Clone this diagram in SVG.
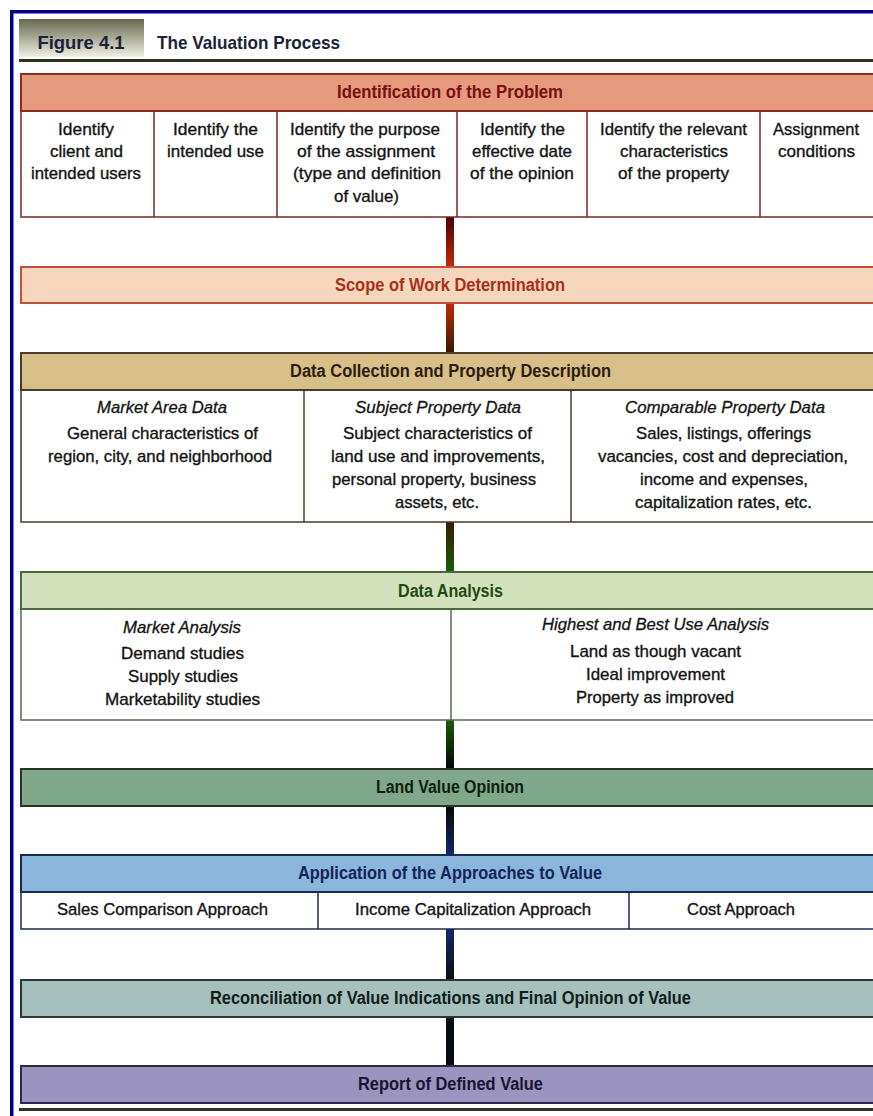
<svg xmlns="http://www.w3.org/2000/svg" width="873" height="1116" viewBox="0 0 873 1116">
<style>
text{font-family:"Liberation Sans Narrow","Liberation Sans",Arial,sans-serif;text-anchor:middle}
.h{font-size:18px;font-weight:bold}
.t{font-size:19px;font-weight:bold}
.b{font-size:17px;fill:#141414;stroke:#141414;stroke-width:0.35}
.i{font-size:17px;font-style:italic;fill:#141414;stroke:#141414;stroke-width:0.3}
.cell{fill:#fff;stroke-width:1.5}
.hd{stroke-width:2}
</style>
<defs>
<linearGradient id="tab" x1="0" y1="0" x2="0" y2="1">
<stop offset="0" stop-color="#66694c"/><stop offset="1" stop-color="#efefe4"/>
</linearGradient>
<linearGradient id="c1" x1="0" y1="0" x2="0" y2="1"><stop offset="0" stop-color="#4e0000"/><stop offset="1" stop-color="#c42a08"/></linearGradient>
<linearGradient id="c2" x1="0" y1="0" x2="0" y2="1"><stop offset="0" stop-color="#c42a08"/><stop offset="1" stop-color="#321a06"/></linearGradient>
<linearGradient id="c3" x1="0" y1="0" x2="0" y2="1"><stop offset="0" stop-color="#3a1a06"/><stop offset="1" stop-color="#1b5a08"/></linearGradient>
<linearGradient id="c4" x1="0" y1="0" x2="0" y2="1"><stop offset="0" stop-color="#1b5a08"/><stop offset="1" stop-color="#050a05"/></linearGradient>
<linearGradient id="c5" x1="0" y1="0" x2="0" y2="1"><stop offset="0" stop-color="#050a05"/><stop offset="1" stop-color="#14286a"/></linearGradient>
<linearGradient id="c6" x1="0" y1="0" x2="0" y2="1"><stop offset="0" stop-color="#14286a"/><stop offset="1" stop-color="#061010"/></linearGradient>
<linearGradient id="c7" x1="0" y1="0" x2="0" y2="1"><stop offset="0" stop-color="#061010"/><stop offset="1" stop-color="#0a0a14"/></linearGradient>
</defs>
<rect width="873" height="1116" fill="#fff"/>
<!-- outer blue frame -->
<rect x="10" y="10" width="863" height="3.5" fill="#00008a"/>
<rect x="10" y="10" width="3.5" height="1106" fill="#00008a"/>
<!-- title -->
<g id="title">
<rect x="19" y="19" width="125" height="38" fill="url(#tab)"/>
<text class="t" x="81" y="49" fill="#1c2238" textLength="87" lengthAdjust="spacingAndGlyphs">Figure 4.1</text>
<text class="t" x="248.5" y="49" fill="#1c2238" textLength="183" lengthAdjust="spacingAndGlyphs">The Valuation Process</text>
<rect x="19" y="59" width="854" height="3" fill="#2a3320"/>
</g>
<!-- connectors -->
<g id="connectors">
<rect x="446" y="217" width="8" height="50" fill="url(#c1)"/>
<rect x="446" y="303" width="8" height="50" fill="url(#c2)"/>
<rect x="446" y="522" width="8" height="50" fill="url(#c3)"/>
<rect x="446" y="720" width="8" height="48" fill="url(#c4)"/>
<rect x="446" y="806" width="8" height="49" fill="url(#c5)"/>
<rect x="446" y="929" width="8" height="51" fill="url(#c6)"/>
<rect x="446" y="1017" width="8" height="49" fill="url(#c7)"/>
</g>
<!-- Identification of the Problem -->
<g id="identification">
<rect class="cell" x="21" y="111" width="870" height="106" stroke="#7a2626"/>
<line x1="154" y1="111" x2="154" y2="217" stroke="#7a2626" stroke-width="1.5"/>
<line x1="277" y1="111" x2="277" y2="217" stroke="#7a2626" stroke-width="1.5"/>
<line x1="457" y1="111" x2="457" y2="217" stroke="#7a2626" stroke-width="1.5"/>
<line x1="587" y1="111" x2="587" y2="217" stroke="#7a2626" stroke-width="1.5"/>
<line x1="760" y1="111" x2="760" y2="217" stroke="#7a2626" stroke-width="1.5"/>
<rect class="hd" x="21" y="74" width="870" height="37" fill="#e59a7e" stroke="#8a2b26"/>
<text class="h" x="450" y="98" fill="#7a1010" textLength="226" lengthAdjust="spacingAndGlyphs">Identification of the Problem</text>
<text class="b" x="86" y="135" textLength="56" lengthAdjust="spacingAndGlyphs">Identify</text>
<text class="b" x="86.5" y="157" textLength="73" lengthAdjust="spacingAndGlyphs">client and</text>
<text class="b" x="86" y="179" textLength="110" lengthAdjust="spacingAndGlyphs">intended users</text>
<text class="b" x="215.5" y="135" textLength="85" lengthAdjust="spacingAndGlyphs">Identify the</text>
<text class="b" x="215.5" y="157" textLength="97" lengthAdjust="spacingAndGlyphs">intended use</text>
<text class="b" x="365" y="135" textLength="150" lengthAdjust="spacingAndGlyphs">Identify the purpose</text>
<text class="b" x="366" y="157" textLength="138" lengthAdjust="spacingAndGlyphs">of the assignment</text>
<text class="b" x="367" y="179" textLength="148" lengthAdjust="spacingAndGlyphs">(type and definition</text>
<text class="b" x="366.5" y="202" textLength="65" lengthAdjust="spacingAndGlyphs">of value)</text>
<text class="b" x="522.5" y="135" textLength="85" lengthAdjust="spacingAndGlyphs">Identify the</text>
<text class="b" x="522" y="157" textLength="100" lengthAdjust="spacingAndGlyphs">effective date</text>
<text class="b" x="522" y="179" textLength="104" lengthAdjust="spacingAndGlyphs">of the opinion</text>
<text class="b" x="673.5" y="135" textLength="147" lengthAdjust="spacingAndGlyphs">Identify the relevant</text>
<text class="b" x="674" y="157" textLength="108" lengthAdjust="spacingAndGlyphs">characteristics</text>
<text class="b" x="673.5" y="179" textLength="111" lengthAdjust="spacingAndGlyphs">of the property</text>
<text class="b" x="816" y="135" textLength="86" lengthAdjust="spacingAndGlyphs">Assignment</text>
<text class="b" x="816.5" y="157" textLength="77" lengthAdjust="spacingAndGlyphs">conditions</text>
</g>
<!-- Scope of Work -->
<g id="scope">
<rect class="hd" x="21" y="267" width="870" height="36" fill="#f6d6bc" stroke="#c2503a"/>
<text class="h" x="450" y="291" fill="#a83218" textLength="230" lengthAdjust="spacingAndGlyphs">Scope of Work Determination</text>
</g>
<!-- Data Collection -->
<g id="data-collection">
<rect class="cell" x="21" y="390" width="870" height="132" stroke="#4a3b2b"/>
<line x1="304" y1="390" x2="304" y2="522" stroke="#4a3b2b" stroke-width="1.5"/>
<line x1="571" y1="390" x2="571" y2="522" stroke="#4a3b2b" stroke-width="1.5"/>
<rect class="hd" x="21" y="353" width="870" height="37" fill="#d8bf8a" stroke="#4a3b2b"/>
<text class="h" x="450.5" y="377" fill="#2b1e10" textLength="321" lengthAdjust="spacingAndGlyphs">Data Collection and Property Description</text>
<text class="i" x="162" y="413" textLength="130" lengthAdjust="spacingAndGlyphs">Market Area Data</text>
<text class="b" x="162.5" y="439" textLength="191" lengthAdjust="spacingAndGlyphs">General characteristics of</text>
<text class="b" x="160" y="462" textLength="224" lengthAdjust="spacingAndGlyphs">region, city, and neighborhood</text>
<text class="i" x="438" y="413" textLength="166" lengthAdjust="spacingAndGlyphs">Subject Property Data</text>
<text class="b" x="437.5" y="439" textLength="189" lengthAdjust="spacingAndGlyphs">Subject characteristics of</text>
<text class="b" x="438" y="462" textLength="214" lengthAdjust="spacingAndGlyphs">land use and improvements,</text>
<text class="b" x="434" y="485" textLength="204" lengthAdjust="spacingAndGlyphs">personal property, business</text>
<text class="b" x="437" y="508" textLength="84" lengthAdjust="spacingAndGlyphs">assets, etc.</text>
<text class="i" x="725" y="413" textLength="200" lengthAdjust="spacingAndGlyphs">Comparable Property Data</text>
<text class="b" x="723.5" y="439" textLength="175" lengthAdjust="spacingAndGlyphs">Sales, listings, offerings</text>
<text class="b" x="723" y="462" textLength="250" lengthAdjust="spacingAndGlyphs">vacancies, cost and depreciation,</text>
<text class="b" x="724" y="485" textLength="168" lengthAdjust="spacingAndGlyphs">income and expenses,</text>
<text class="b" x="723.5" y="508" textLength="177" lengthAdjust="spacingAndGlyphs">capitalization rates, etc.</text>
</g>
<!-- Data Analysis -->
<g id="data-analysis">
<rect class="cell" x="21" y="609" width="870" height="111" stroke="#566e4c"/>
<line x1="451" y1="609" x2="451" y2="720" stroke="#566e4c" stroke-width="1.5"/>
<rect class="hd" x="21" y="572" width="870" height="37" fill="#d3e1bc" stroke="#4a6a3a"/>
<text class="h" x="450.5" y="597" fill="#1f4a10" textLength="105" lengthAdjust="spacingAndGlyphs">Data Analysis</text>
<text class="i" x="182" y="633" textLength="118" lengthAdjust="spacingAndGlyphs">Market Analysis</text>
<text class="b" x="182.5" y="659" textLength="123" lengthAdjust="spacingAndGlyphs">Demand studies</text>
<text class="b" x="183" y="682" textLength="110" lengthAdjust="spacingAndGlyphs">Supply studies</text>
<text class="b" x="182.5" y="705" textLength="155" lengthAdjust="spacingAndGlyphs">Marketability studies</text>
<text class="i" x="655.5" y="630" textLength="227" lengthAdjust="spacingAndGlyphs">Highest and Best Use Analysis</text>
<text class="b" x="655.5" y="657" textLength="171" lengthAdjust="spacingAndGlyphs">Land as though vacant</text>
<text class="b" x="655.5" y="680" textLength="139" lengthAdjust="spacingAndGlyphs">Ideal improvement</text>
<text class="b" x="655" y="703" textLength="158" lengthAdjust="spacingAndGlyphs">Property as improved</text>
</g>
<!-- Land Value Opinion -->
<g id="land-value">
<rect class="hd" x="21" y="769" width="870" height="37" fill="#80a88a" stroke="#26352a"/>
<text class="h" x="450" y="793" fill="#0f1f0f" textLength="148" lengthAdjust="spacingAndGlyphs">Land Value Opinion</text>
</g>
<!-- Application of the Approaches -->
<g id="approaches">
<rect class="cell" x="21" y="892" width="870" height="37" stroke="#1a2a50"/>
<line x1="318" y1="892" x2="318" y2="929" stroke="#1a2a50" stroke-width="1.5"/>
<line x1="629" y1="892" x2="629" y2="929" stroke="#1a2a50" stroke-width="1.5"/>
<rect class="hd" x="21" y="855" width="870" height="37" fill="#8ab6dc" stroke="#1a2a50"/>
<text class="h" x="450" y="879" fill="#14235a" textLength="304" lengthAdjust="spacingAndGlyphs">Application of the Approaches to Value</text>
<text class="b" x="162.5" y="915" textLength="211" lengthAdjust="spacingAndGlyphs">Sales Comparison Approach</text>
<text class="b" x="473" y="915" textLength="236" lengthAdjust="spacingAndGlyphs">Income Capitalization Approach</text>
<text class="b" x="741" y="915" textLength="108" lengthAdjust="spacingAndGlyphs">Cost Approach</text>
</g>
<!-- Reconciliation -->
<g id="reconciliation">
<rect class="hd" x="21" y="980" width="870" height="37" fill="#a6c0bd" stroke="#2a3838"/>
<text class="h" x="450.5" y="1004" fill="#10201a" textLength="481" lengthAdjust="spacingAndGlyphs">Reconciliation of Value Indications and Final Opinion of Value</text>
</g>
<!-- Report -->
<g id="report">
<rect class="hd" x="21" y="1066" width="870" height="37" fill="#9b94c0" stroke="#2a2a4a"/>
<text class="h" x="450.5" y="1090" fill="#1a1530" textLength="185" lengthAdjust="spacingAndGlyphs">Report of Defined Value</text>
</g>
<rect x="19" y="1108" width="854" height="3" fill="#2a3320"/>
</svg>
